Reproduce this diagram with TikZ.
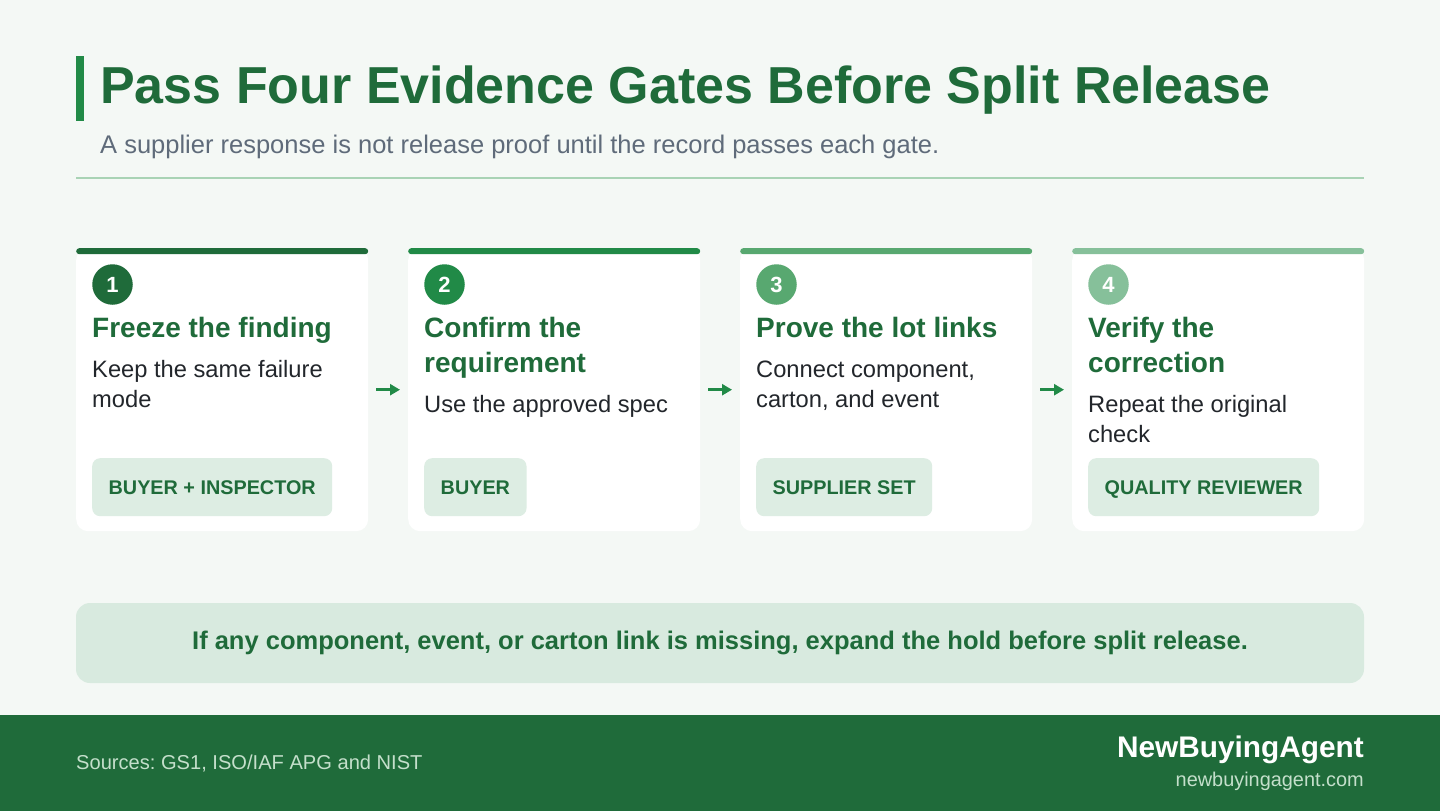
\documentclass[tikz,border=0pt]{standalone}
\usepackage{fontspec}
\setmainfont{Liberation Sans}
\usepackage{xcolor}
\usetikzlibrary{arrows.meta}
\frenchspacing

\definecolor{pagebg}{HTML}{F4F8F5}
\definecolor{darkgreen}{HTML}{1F6B3A}
\definecolor{midgreen}{HTML}{218A47}
\definecolor{softgreen}{HTML}{58A870}
\definecolor{palegreen}{HTML}{86C09A}
\definecolor{rulegreen}{HTML}{A9D3B5}
\definecolor{tagfill}{HTML}{DDEDE3}
\definecolor{notefill}{HTML}{D8EADF}
\definecolor{subgray}{HTML}{5F6B7A}
\definecolor{bodyink}{HTML}{22262B}
\definecolor{footink}{HTML}{C4DFCB}

\newcommand{\fsz}[2]{\fontsize{#1}{#2}\selectfont}

\begin{document}
\begin{tikzpicture}[x=1pt, y=-1pt]

        % Styles for the gate cards
        \tikzset{
            card/.style={fill=white, rounded corners=12pt, minimum width=292pt, minimum height=283pt, inner sep=0pt, anchor=north west},
            topbar/.style={rounded corners=3pt, minimum width=292pt, minimum height=6pt, inner sep=0pt, anchor=north west},
            gatenum/.style={circle, minimum size=40.5pt, inner sep=0pt, text=white, font=\fsz{22}{26}\bfseries},
            heading/.style={anchor=base west, align=left, inner sep=0pt, text=darkgreen, font=\fsz{28}{35}\bfseries},
            bodytext/.style={anchor=base west, align=left, inner sep=0pt, text=bodyink, font=\fsz{23.7}{30}},
            tag/.style={fill=tagfill, rounded corners=8pt, anchor=north west, minimum height=58pt, inner xsep=16.5pt, inner ysep=0pt, text height=14.2pt, text depth=0pt, text=darkgreen, font=\fsz{19.8}{24}\bfseries},
            flowarrow/.style={midgreen, line width=3pt, -{Triangle[length=10pt, width=11pt]}, shorten <=8pt, shorten >=8pt}
        }

        % =================================================================
        % 1. BACKGROUND AND HEADER
        % =================================================================

        \fill[pagebg] (0,0) rectangle (1440,811);
        \useasboundingbox (0,0) rectangle (1440,811);

        \fill[midgreen] (76,56) rectangle (84,121);
        \node[anchor=base west, inner sep=0pt, text=darkgreen, font=\fsz{52}{60}\bfseries] (title) at (100,103) {Pass Four Evidence Gates Before Split Release};
        \node[anchor=base west, inner sep=0pt, text=subgray, font=\fsz{25.5}{30}] (subtitle) at (100,153) {A supplier response is not release proof until the record passes each gate.};

        \coordinate (ruleL) at (76,178);
        \coordinate (ruleR) at (1364,178);
        \draw[rulegreen, line width=2pt] (ruleL) -- (ruleR);

        % =================================================================
        % 2. THE FOUR GATE CARDS
        % =================================================================

        % Gate 1 (multi-line texts are placed by their last baseline)
        \node[card] (card1) at (76,248) {};
        \node[topbar, fill=darkgreen] (bar1) at (card1.north west) {};
        \node[gatenum, fill=darkgreen] (num1) at (112.5,284.5) {1};
        \node[heading] (head1) at (92,337) {Freeze the finding};
        \node[bodytext] (body1) at (92,407) {Keep the same failure\\mode};
        \node[tag] (tag1) at (92,458) {BUYER + INSPECTOR};

        % Gate 2
        \node[card] (card2) at (408,248) {};
        \node[topbar, fill=midgreen] (bar2) at (card2.north west) {};
        \node[gatenum, fill=midgreen] (num2) at (444.5,284.5) {2};
        \node[heading] (head2) at (424,372) {Confirm the\\requirement};
        \node[bodytext] (body2) at (424,412) {Use the approved spec};
        \node[tag] (tag2) at (424,458) {BUYER};

        % Gate 3
        \node[card] (card3) at (740,248) {};
        \node[topbar, fill=softgreen] (bar3) at (card3.north west) {};
        \node[gatenum, fill=softgreen] (num3) at (776.5,284.5) {3};
        \node[heading] (head3) at (756,337) {Prove the lot links};
        \node[bodytext] (body3) at (756,407) {Connect component,\\carton, and event};
        \node[tag] (tag3) at (756,458) {SUPPLIER SET};

        % Gate 4
        \node[card] (card4) at (1072,248) {};
        \node[topbar, fill=palegreen] (bar4) at (card4.north west) {};
        \node[gatenum, fill=palegreen] (num4) at (1108.5,284.5) {4};
        \node[heading] (head4) at (1088,372) {Verify the\\correction};
        \node[bodytext] (body4) at (1088,442) {Repeat the original\\check};
        \node[tag] (tag4) at (1088,458) {QUALITY REVIEWER};

        % Arrows between the gates
        \draw[flowarrow] (card1.east) -- (card2.west);
        \draw[flowarrow] (card2.east) -- (card3.west);
        \draw[flowarrow] (card3.east) -- (card4.west);

        % =================================================================
        % 3. HOLD NOTE AND FOOTER
        % =================================================================

        \node[fill=notefill, rounded corners=14pt, minimum width=1288pt, minimum height=80pt, inner sep=0pt, text=darkgreen, font=\fsz{25.5}{30}\bfseries] (note) at (720,643) {If any component, event, or carton link is missing, expand the hold before split release.};

        \fill[darkgreen] (0,715) rectangle (1440,811);
        \node[anchor=base west, inner sep=0pt, text=footink, font=\fsz{20.1}{24}] (sources) at (76,769) {Sources: GS1, ISO/IAF APG and NIST};
        \node[anchor=base east, inner sep=0pt, text=white, font=\fsz{29.8}{34}\bfseries] (brand) at (1364,757) {NewBuyingAgent};
        \node[anchor=base east, inner sep=0pt, text=footink, font=\fsz{19.9}{24}] (site) at (1364,786) {newbuyingagent.com};

\end{tikzpicture}
\end{document}
